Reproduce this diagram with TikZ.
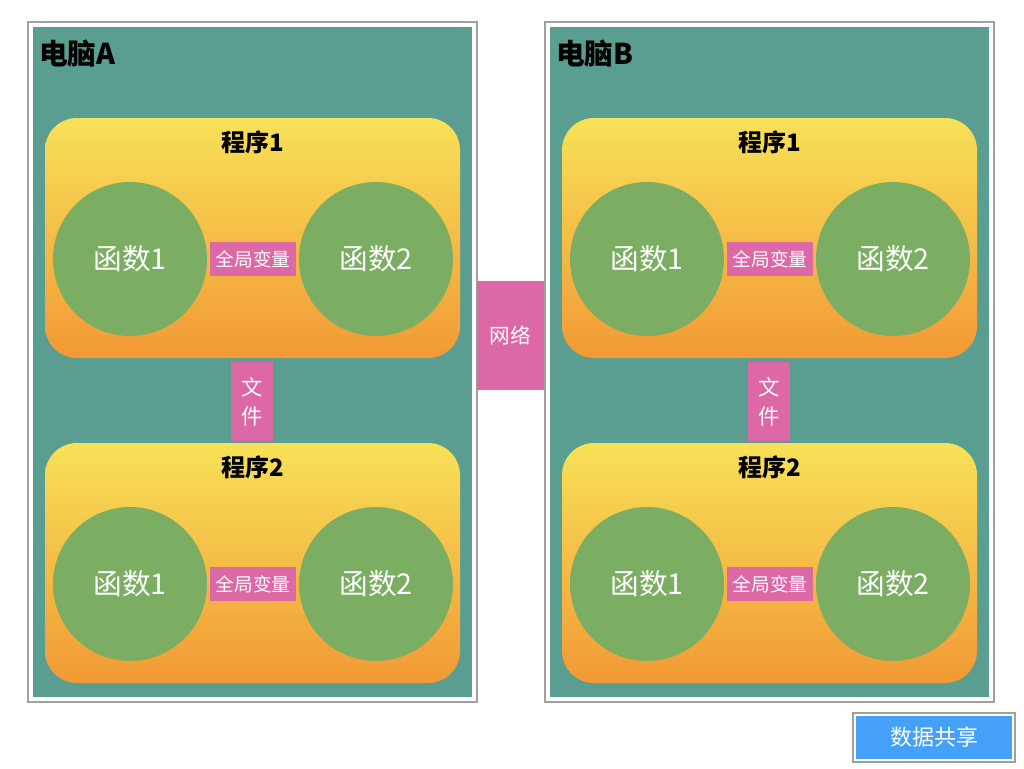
\documentclass[tikz,border=0pt]{standalone}
\usepackage{fontspec}
\setmainfont{Noto Sans CJK SC}
\usetikzlibrary{fit}
\definecolor{teal1}{HTML}{5A9E92}
\definecolor{frameg}{HTML}{A0A0A0}
\definecolor{pinkb}{HTML}{DD68A6}
\definecolor{greenc}{HTML}{7BAE62}
\definecolor{yel}{HTML}{F7E157}
\definecolor{ora}{HTML}{F29935}
\definecolor{blueb}{HTML}{45A0F8}
\tikzset{
  outerframe/.style={draw=frameg,line width=0.8pt,fill=white,inner sep=0pt},
  tealbox/.style={fill=teal1,inner sep=0pt},
  progbox/.style={top color=yel,bottom color=ora,rounded corners=24pt,inner sep=0pt},
  func/.style={circle,fill=greenc,minimum size=115.5pt,inner sep=0pt,text=white,font=\fontsize{21.5}{21.5}\selectfont},
  pinkbox/.style={fill=pinkb,inner sep=0pt,text=white},
  title/.style={font=\bfseries\fontsize{21.5}{21.5}\selectfont,anchor=west,inner sep=0pt},
  ptitle/.style={font=\bfseries\fontsize{18}{18}\selectfont,inner sep=0pt},
}
\begin{document}
\begin{tikzpicture}[x=0.75pt,y=-0.75pt]
\useasboundingbox[fill=white] (0,0) rectangle (1024,768);
% computer frames
\foreach \dx/\nm/\lab in {0/A/电脑A,517/B/电脑B}{
  \node[outerframe,fit={(28+\dx,22)(477+\dx,702)}] (frame\nm) {};
  \node[tealbox,fit={(33+\dx,27)(472+\dx,697)}] (comp\nm) {};
  \node[title] (lab\nm) at (39+\dx,54) {\lab};
  \foreach \dy/\p in {0/1,325/2}{
    \node[progbox,fit={(45+\dx,118+\dy)(460+\dx,358+\dy)}] (prog\nm\p) {};
    \node[ptitle] (ptitle\nm\p) at (253+\dx,142+\dy) {程序\p};
    \node[func] (f\nm\p a) at (130+\dx,259+\dy) {函数1};
    \node[func] (f\nm\p b) at (376+\dx,259+\dy) {函数2};
    \node[pinkbox,minimum width=64.5pt,minimum height=25.5pt,font=\fontsize{14}{14}\selectfont] (g\nm\p) at (253+\dx,259+\dy) {全局变量};
  }
  \node[pinkbox,minimum width=31.5pt,minimum height=59.25pt,font=\fontsize{16}{21.5}\selectfont,align=center] (file\nm) at (252+\dx,401.5) {文\\件};
}
% network
\node[pinkbox,minimum width=50.25pt,minimum height=81.75pt,font=\fontsize{15.5}{15.5}\selectfont] (net) at (510.5,335.5) {网络};
% data sharing button
\node[draw=frameg,line width=0.8pt,fill=white,inner sep=0pt,fit={(853,713)(1015,762)}] (btnframe) {};
\node[fill=blueb,inner sep=0pt,minimum width=117pt,minimum height=32.25pt,text=white,font=\fontsize{16.5}{16.5}\selectfont] (btn) at (934,737.5) {数据共享};
\end{tikzpicture}
\end{document}
